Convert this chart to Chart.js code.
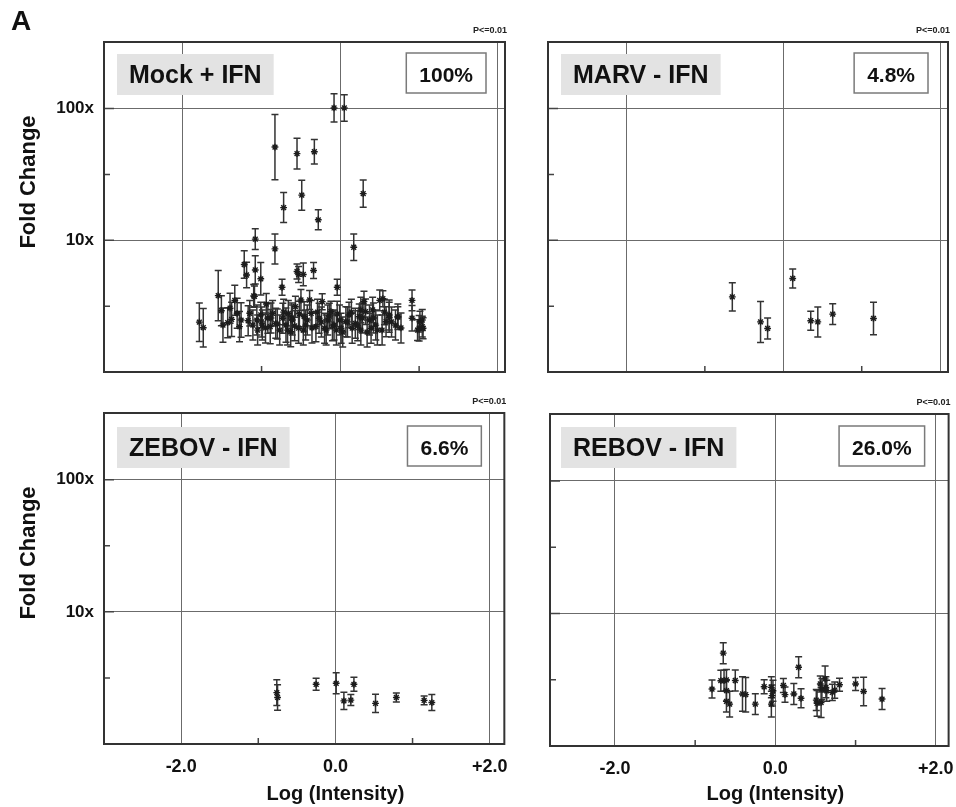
<!DOCTYPE html>
<html lang="en">
<head>
<meta charset="utf-8">
<title>Fold change vs log intensity</title>
<script src="https://cdn.jsdelivr.net/npm/chart.js@4.4.1/dist/chart.umd.min.js"></script>
<style>
  html, body { margin: 0; padding: 0; background: #fff; }
  #figure { position: relative; width: 956px; height: 807px; overflow: hidden; }
  #figure canvas { position: absolute; }
</style>
</head>
<body>
<div id="figure">
  <canvas id="mock" width="520" height="400" style="left:0;top:0"></canvas>
  <canvas id="marv" width="436" height="380" style="left:520px;top:0"></canvas>
  <canvas id="zebov" width="520" height="427" style="left:0;top:380px"></canvas>
  <canvas id="rebov" width="446" height="427" style="left:520px;top:380px"></canvas>
</div>
<script>
const FONT = '"Liberation Sans", Arial, Helvetica, sans-serif';
Chart.defaults.font.family = FONT;

// x axis: log intensity
const xGridValues = [-2, 0, 2];
const xGridLabels = ["-2.0", "0.0", "+2.0"];
const xMinorValues = [-1, 1];

// y axis: fold change, log scale
const yGridValues = [10, 100];
const yGridLabels = ["10x", "100x"];
const yMinorValues = [3.162, 31.62];

const panelNames = ["Mock + IFN", "MARV - IFN", "ZEBOV - IFN", "REBOV - IFN"];
const panelShares = ["100%", "4.8%", "6.6%", "26.0%"];

// Mock + IFN: log intensity, fold change, error factor (x / and * for the bar ends)
const mockLogI = [
  -0.08, 0.05, -0.83, -0.55, -0.33, -0.49, -0.72, -0.28, 0.29, -1.08,
  -0.83, 0.17, -1.22, -1.19, -1.08, -1.01, -1.09, -0.74, -0.55, -0.53,
  -0.47, -0.34, -0.04, -1.55, -0.23, 0.50, 0.54, 0.91, 0.91, -1.79,
  -1.74, -1.51, -1.34, -1.49, -1.43, -1.40, -1.38, -1.31, -1.28, -1.26,
  -1.17, -1.15, -1.11, -1.10, -1.06, -1.01, -0.99, -0.94, -0.92, -0.89,
  -0.86, -0.82, -0.77, -0.73, -0.69, -0.66, -0.63, -0.61, -0.57, -0.53,
  -0.50, -0.46, -0.44, -0.39, -0.37, -0.31, -0.27, -0.20, -0.16, -0.12,
  -0.08, -0.05, -0.01, 0.01, 0.07, 0.11, 0.15, 0.19, 0.24, 0.26,
  0.32, 0.37, 0.39, 0.41, 0.45, 0.53, 0.58, 0.62, 0.70, 0.73,
  0.98, 1.01, 1.04, 0.26, 0.30, 0.62, 0.73, 1.04, 1.05, 1.00,
  -1.05, -1.00, -0.95, -0.88, -0.80, -0.72, -0.67, -0.62, -0.58, -0.52,
  -0.47, -0.42, -0.36, -0.29, -0.24, -0.18, -0.14, -0.10, -0.04, 0.03,
  0.09, 0.14, 0.22, 0.28, 0.34, 0.42, 0.47, 0.56, 0.65, 0.77
];
const mockFold = [
  101, 101, 51, 45.5, 47, 22, 17.7, 14.3, 22.6, 10.2,
  8.6, 8.85, 6.55, 5.45, 5.95, 5.1, 3.75, 4.4, 5.8, 5.5,
  5.5, 5.9, 4.4, 3.8, 3.42, 3.5, 3.6, 3.5, 2.56, 2.39,
  2.17, 2.92, 3.5, 2.27, 2.37, 3.05, 2.51, 2.79, 2.21, 2.48,
  2.45, 2.79, 2.27, 3.78, 2.48, 2.71, 2.27, 3.28, 2.56, 2.21,
  2.79, 2.34, 2.08, 2.56, 2.27, 2.79, 2.02, 2.48, 3.13, 2.15,
  3.52, 2.63, 2.27, 3.52, 2.79, 2.21, 2.56, 2.15, 2.48, 2.87,
  2.27, 2.08, 2.48, 2.15, 2.41, 2.71, 2.15, 2.34, 2.63, 2.08,
  2.87, 2.48, 2.15, 2.96, 2.27, 2.08, 2.41, 2.71, 2.27, 2.63,
  2.08, 2.41, 2.21, 2.96, 3.42, 2.60, 2.61, 2.48, 2.15, 2.15,
  2.08, 2.40, 2.16, 2.57, 2.31, 2.85, 2.08, 2.57, 2.24, 2.76,
  2.08, 2.48, 2.16, 2.85, 2.40, 2.08, 2.66, 2.24, 2.76, 2.01,
  2.40, 2.85, 2.24, 2.57, 2.01, 2.57, 2.08, 2.85, 2.40, 2.16
];
const mockErr = [
  1.28, 1.26, 1.77, 1.31, 1.24, 1.3, 1.3, 1.19, 1.27, 1.2,
  1.3, 1.26, 1.27, 1.25, 1.28, 1.33, 1.2, 1.15, 1.14, 1.15,
  1.22, 1.15, 1.15, 1.55, 1.15, 1.2, 1.15, 1.2, 1.25, 1.4,
  1.4, 1.3, 1.3, 1.35, 1.3, 1.3, 1.35, 1.3, 1.3, 1.35,
  1.3, 1.25, 1.3, 1.22, 1.3, 1.25, 1.3, 1.2, 1.3, 1.35,
  1.25, 1.3, 1.3, 1.3, 1.35, 1.25, 1.3, 1.3, 1.2, 1.3,
  1.2, 1.3, 1.3, 1.18, 1.25, 1.3, 1.3, 1.3, 1.3, 1.2,
  1.3, 1.3, 1.3, 1.3, 1.3, 1.25, 1.3, 1.3, 1.25, 1.3,
  1.25, 1.3, 1.3, 1.25, 1.3, 1.3, 1.3, 1.3, 1.3, 1.25,
  1.2, 1.2, 1.2, 1.25, 1.2, 1.3, 1.2, 1.2, 1.2, 1.25,
  1.3, 1.3, 1.3, 1.3, 1.3, 1.25, 1.3, 1.3, 1.3, 1.25,
  1.3, 1.3, 1.3, 1.25, 1.3, 1.3, 1.25, 1.3, 1.25, 1.3,
  1.3, 1.25, 1.3, 1.3, 1.3, 1.3, 1.3, 1.25, 1.3, 1.3
];

// MARV - IFN
const marvLogI = [-0.65, -0.29, -0.20, 0.12, 0.35, 0.44, 0.63, 1.15];
const marvFold = [3.72, 2.40, 2.14, 5.13, 2.45, 2.40, 2.75, 2.55];
const marvErr = [1.28, 1.43, 1.2, 1.18, 1.18, 1.3, 1.2, 1.33];

// ZEBOV - IFN
const zebovLogI = [-0.76, -0.75, -0.25, 0.01, 0.11, 0.20, 0.24, 0.52, 0.79, 1.15, 1.25];
const zebovFold = [2.45, 2.25, 2.83, 2.88, 2.12, 2.15, 2.83, 2.03, 2.25, 2.14, 2.06];
const zebovErr = [1.25, 1.25, 1.11, 1.2, 1.16, 1.1, 1.13, 1.17, 1.08, 1.08, 1.15];

// REBOV - IFN
const rebovLogI = [
  -0.79, -0.65, -0.68, -0.64, -0.61, -0.61, -0.61, -0.57, -0.50, -0.41,
  -0.37, -0.25, -0.14, -0.05, -0.04, -0.05, -0.03, 0.10, 0.12, 0.23,
  0.29, 0.32, 0.51, 0.52, 0.56, 0.57, 0.58, 0.62, 0.63, 0.64,
  0.71, 0.74, 0.80, 1.00, 1.10, 1.33
];
const rebovFold = [
  2.69, 5.02, 3.11, 3.11, 3.15, 2.62, 2.17, 2.07, 3.12, 2.47,
  2.44, 2.07, 2.80, 2.77, 2.40, 2.07, 2.61, 2.86, 2.44, 2.47,
  3.93, 2.29, 2.22, 2.10, 2.94, 2.13, 2.69, 3.21, 2.77, 2.61,
  2.54, 2.64, 2.90, 2.94, 2.58, 2.26
];
const rebovErr = [
  1.17, 1.2, 1.2, 1.2, 1.2, 1.2, 1.2, 1.25, 1.2, 1.35,
  1.35, 1.2, 1.13, 1.2, 1.2, 1.25, 1.2, 1.13, 1.14, 1.2,
  1.2, 1.18, 1.2, 1.25, 1.15, 1.3, 1.2, 1.25, 1.2, 1.2,
  1.15, 1.15, 1.12, 1.12, 1.28, 1.2
];

// layout of the four panels (pixel sizes of the plot box inside each canvas)
const panels = [
  { canvas: "mock", logI: mockLogI, fold: mockFold, err: mockErr,
    padTop: 42, padRight: 15, axisW: 104, axisH: 28, xMin: -3, xMax: 2.09,
    tagDx: 13, tagDy: 12, shareGap: 19, leftCol: true, bottomRow: false },
  { canvas: "marv", logI: marvLogI, fold: marvFold, err: marvErr,
    padTop: 42, padRight: 8, axisW: 28, axisH: 8, xMin: -3, xMax: 2.1,
    tagDx: 13, tagDy: 12, shareGap: 20, leftCol: false, bottomRow: false },
  { canvas: "zebov", logI: zebovLogI, fold: zebovFold, err: zebovErr,
    padTop: 33, padRight: 15, axisW: 104, axisH: 63, xMin: -3, xMax: 2.19,
    tagDx: 13, tagDy: 14, shareGap: 23, leftCol: true, bottomRow: true },
  { canvas: "rebov", logI: rebovLogI, fold: rebovFold, err: rebovErr,
    padTop: 34, padRight: 14, axisW: 30, axisH: 61, xMin: -2.81, xMax: 2.16,
    tagDx: 11, tagDy: 13, shareGap: 24, leftCol: false, bottomRow: true }
];

// Error bars, frame, inner ticks and the in-panel labels
function makeDecor(p, idx) {
  return {
    id: "decor" + idx,
    beforeDatasetsDraw(chart) {
      const { ctx, scales: { x, y } } = chart;
      ctx.save();
      ctx.strokeStyle = "#333";
      ctx.lineWidth = 1.5;
      p.logI.forEach((v, i) => {
        const px = x.getPixelForValue(v);
        const hi = y.getPixelForValue(p.fold[i] * p.err[i]);
        const lo = y.getPixelForValue(p.fold[i] / p.err[i]);
        ctx.beginPath();
        ctx.moveTo(px, hi); ctx.lineTo(px, lo);
        ctx.moveTo(px - 3.5, hi); ctx.lineTo(px + 3.5, hi);
        ctx.moveTo(px - 3.5, lo); ctx.lineTo(px + 3.5, lo);
        ctx.stroke();
      });
      ctx.restore();
    },
    afterDatasetsDraw(chart) {
      const { ctx, chartArea: a, scales: { x, y } } = chart;
      ctx.save();

      // short tick marks pointing into the plot
      ctx.strokeStyle = "#444";
      ctx.lineWidth = 1.5;
      ctx.beginPath();
      yGridValues.forEach(v => {
        const py = y.getPixelForValue(v);
        ctx.moveTo(a.left, py); ctx.lineTo(a.left + 10, py);
      });
      yMinorValues.forEach(v => {
        const py = y.getPixelForValue(v);
        ctx.moveTo(a.left, py); ctx.lineTo(a.left + 6, py);
      });
      xMinorValues.forEach(v => {
        const px = x.getPixelForValue(v);
        ctx.moveTo(px, a.bottom); ctx.lineTo(px, a.bottom - 6);
      });
      ctx.stroke();

      // plot frame
      ctx.strokeStyle = "#333";
      ctx.lineWidth = 2;
      ctx.strokeRect(a.left, a.top, a.right - a.left, a.bottom - a.top);

      // grey name tag
      ctx.font = "bold 25px " + FONT;
      const name = panelNames[idx];
      const nw = ctx.measureText(name).width + 24;
      const tx = a.left + p.tagDx, ty = a.top + p.tagDy;
      ctx.fillStyle = "#e3e3e3";
      ctx.fillRect(tx, ty, nw, 41);
      ctx.fillStyle = "#111";
      ctx.textAlign = "center";
      ctx.textBaseline = "alphabetic";
      ctx.fillText(name, tx + nw / 2, ty + 29);

      // percentage box
      ctx.font = "bold 21px " + FONT;
      const share = panelShares[idx];
      const sw = ctx.measureText(share).width + 26;
      const sx = a.right - p.shareGap - sw, sy = a.top + p.tagDy - 1;
      ctx.fillStyle = "#fff";
      ctx.fillRect(sx, sy, sw, 40);
      ctx.strokeStyle = "#7a7a7a";
      ctx.lineWidth = 1.5;
      ctx.strokeRect(sx, sy, sw, 40);
      ctx.fillStyle = "#111";
      ctx.fillText(share, sx + sw / 2, sy + 29);

      // significance note above the frame
      ctx.font = "bold 9px " + FONT;
      ctx.textAlign = "right";
      ctx.fillStyle = "#222";
      ctx.fillText("P<=0.01", a.right + 2, a.top - 9);

      // axis titles
      ctx.fillStyle = "#111";
      if (p.leftCol) {
        ctx.save();
        ctx.font = "bold 22px " + FONT;
        ctx.textAlign = "center";
        ctx.translate(35, a.top + 140);
        ctx.rotate(-Math.PI / 2);
        ctx.fillText("Fold Change", 0, 0);
        ctx.restore();
      }
      if (p.bottomRow) {
        ctx.font = "bold 20px " + FONT;
        ctx.textAlign = "center";
        ctx.fillText("Log (Intensity)", x.getPixelForValue(0), chart.height - 7);
      }
      if (idx === 0) {
        ctx.font = "bold 28px " + FONT;
        ctx.textAlign = "left";
        ctx.fillText("A", 11, 30);
      }
      ctx.restore();
    }
  };
}

panels.forEach((p, idx) => {
  new Chart(document.getElementById(p.canvas), {
    type: "scatter",
    data: {
      datasets: [{
        data: p.logI.map((v, i) => ({ x: v, y: p.fold[i] })),
        pointStyle: "star",
        radius: 3.4,
        borderWidth: 1.4,
        borderColor: "#1c1c1c",
        backgroundColor: "#1c1c1c"
      }]
    },
    options: {
      responsive: false,
      animation: false,
      devicePixelRatio: 1,
      layout: {
        autoPadding: false,
        padding: { top: p.padTop, right: p.padRight, left: 0, bottom: 0 }
      },
      plugins: { legend: { display: false }, tooltip: { enabled: false } },
      scales: {
        x: {
          type: "linear",
          min: p.xMin,
          max: p.xMax,
          afterBuildTicks: s => { s.ticks = xGridValues.map(v => ({ value: v })); },
          afterFit: s => { s.height = p.axisH; },
          grid: { color: "#6b6b6b", lineWidth: 1, drawTicks: false },
          border: { display: false },
          ticks: {
            display: p.bottomRow,
            padding: 12,
            color: "#111",
            font: { size: 18, weight: "bold" },
            callback: v => xGridLabels[xGridValues.indexOf(v)]
          }
        },
        y: {
          type: "logarithmic",
          min: 1,
          max: 320,
          afterBuildTicks: s => { s.ticks = yGridValues.map(v => ({ value: v })); },
          afterFit: s => { s.width = p.axisW; },
          grid: { color: "#6b6b6b", lineWidth: 1, drawTicks: false },
          border: { display: false },
          ticks: {
            display: p.leftCol,
            padding: 10,
            color: "#111",
            font: { size: 17, weight: "bold" },
            callback: v => yGridLabels[yGridValues.indexOf(v)]
          }
        }
      }
    },
    plugins: [makeDecor(p, idx)]
  });
});
</script>
</body>
</html>
